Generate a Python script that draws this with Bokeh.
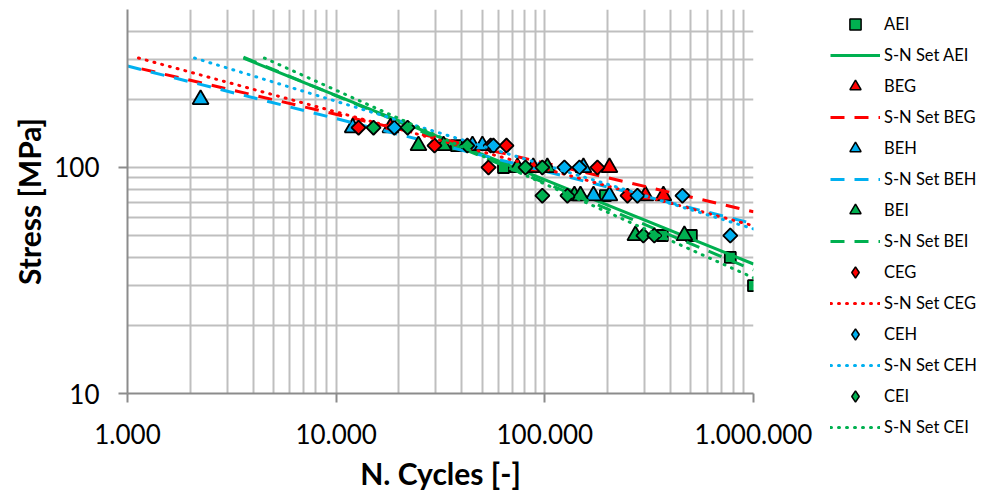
import numpy as np
from bokeh.plotting import figure
from bokeh.layouts import row
from bokeh.models import Legend, LegendItem, FixedTicker, Range1d
from bokeh.embed import file_html
from bokeh.resources import INLINE

# ---------------- data ----------------
AEI_N = [37700, 63400, 195100, 365600, 503600, 774000, 1000000]
AEI_S = [125, 100, 75, 50, 50, 40, 30]
BEG_N = [18200, 88000, 204000, 303600, 370000]
BEG_S = [150, 100, 100, 75, 75]
BEH_N = [2240, 12000, 45000, 50200, 153100, 171100, 204000]
BEH_S = [200, 150, 125, 125, 100, 75, 75]
BEI_N = [24800, 32700, 73900, 102800, 138600, 148200, 271600, 466300]
BEI_S = [125, 125, 100, 100, 75, 75, 50, 50]
CEG_N = [12800, 29600, 53700, 55000, 65500, 178700, 249000]
CEG_S = [150, 125, 100, 125, 125, 100, 75]
CEH_N = [19000, 56700, 124100, 146500, 277800, 456500, 774000]
CEH_S = [150, 125, 100, 100, 75, 75, 50]
CEI_N = [15100, 22000, 42500, 80800, 97300, 97300, 128300, 296600, 334800]
CEI_S = [150, 150, 125, 100, 100, 75, 75, 50, 50]

# S-N fitted lines (end points)
SN_AEI_N = [3594, 1000000]
SN_AEI_S = [305, 37.4]
SN_BEG_N = [1167, 1000000]
SN_BEG_S = [273, 63.7]
SN_BEH_N = [1000, 1000000]
SN_BEH_S = [281, 56.4]
SN_BEI_N = [3594, 1000000]
SN_BEI_S = [308, 35.2]
SN_CEG_N = [1129, 1000000]
SN_CEG_S = [305, 55.2]
SN_CEH_N = [2096, 1000000]
SN_CEH_S = [305, 53.5]
SN_CEI_N = [4529, 1000000]
SN_CEI_S = [305, 32.5]

x_ticks = [1000, 10000, 100000, 1000000]
x_tick_labels = ["1.000", "10.000", "100.000", "1.000.000"]
y_ticks = [10, 100]
y_tick_labels = ["10", "100"]

GREEN = "#00B050"
RED = "#FF0000"
BLUE = "#00B0F0"
FONT = "Lato"
DOT = "1 7"
DASH = "14 10"

H = 494
W1 = 816          # chart part
W2 = 989 - W1     # legend part

p = figure(width=W1, height=H, x_axis_type="log", y_axis_type="log",
           x_range=Range1d(1000, 1000000), y_range=Range1d(10, 500),
           output_backend="svg", toolbar_location=None,
           min_border_left=127, min_border_right=W1 - 753,
           min_border_top=9, min_border_bottom=H - 393)
p.outline_line_color = None
p.background_fill_color = "white"

mant = [2, 3, 4, 5, 6, 7, 8, 9]
p.xaxis.ticker = FixedTicker(ticks=x_ticks,
                             minor_ticks=[m * t for t in x_ticks[:-1] for m in mant])
p.yaxis.ticker = FixedTicker(ticks=y_ticks,
                             minor_ticks=[m * t for t in y_ticks for m in mant if m * t <= 500])
p.xaxis.major_label_overrides = {float(t): l for t, l in zip(x_ticks, x_tick_labels)}
p.yaxis.major_label_overrides = {float(t): l for t, l in zip(y_ticks, y_tick_labels)}

for ax in (p.xaxis, p.yaxis):
    ax.axis_line_color = "#8C8C8C"
    ax.axis_line_width = 2
    ax.major_tick_line_color = "#8C8C8C"
    ax.major_tick_line_width = 2
    ax.major_tick_out = 9
    ax.major_tick_in = 0
    ax.minor_tick_line_color = None
    ax.major_label_text_font = FONT
    ax.major_label_text_font_size = "26px"
    ax.major_label_text_color = "black"
    ax.axis_label_text_font = FONT
    ax.axis_label_text_font_size = "30px"
    ax.axis_label_text_font_style = "bold"
    ax.axis_label_text_color = "black"

p.xaxis.axis_label = "N. Cycles [-]"
p.yaxis.axis_label = "Stress [MPa]"
p.xaxis.major_label_standoff = 21
p.yaxis.major_label_standoff = 19
p.xaxis.axis_label_standoff = 8
p.yaxis.axis_label_standoff = 4

for g in (p.xgrid, p.ygrid):
    g.grid_line_color = "#BFBFBF"
    g.grid_line_width = 2
    g.minor_grid_line_color = "#BFBFBF"
    g.minor_grid_line_width = 2

ang = np.pi / 4

# legend panel: a separate, axis-less figure to the right of the chart.
# Its ranges (0..1) keep the series' own points out of view; only the legend shows.
q = figure(width=W2, height=H, x_range=Range1d(0, 1), y_range=Range1d(0, 1),
           output_backend="svg", toolbar_location=None,
           x_axis_location=None, y_axis_location=None,
           min_border_left=0, min_border_right=0, min_border_top=0, min_border_bottom=0)
q.outline_line_color = None
q.grid.visible = False
q.background_fill_color = "white"

aligned = True
if "frame_align" in q.properties():
    q.frame_align = False
    p.frame_align = False
    aligned = False

series = [
    ("AEI", AEI_N, AEI_S, "square", "square", GREEN, 11, 0.0, SN_AEI_N, SN_AEI_S, "solid"),
    ("BEG", BEG_N, BEG_S, "triangle", "triangle", RED, 16, 0.0, SN_BEG_N, SN_BEG_S, DASH),
    ("BEH", BEH_N, BEH_S, "triangle", "triangle", BLUE, 16, 0.0, SN_BEH_N, SN_BEH_S, DASH),
    ("BEI", BEI_N, BEI_S, "triangle", "triangle", GREEN, 16, 0.0, SN_BEI_N, SN_BEI_S, DASH),
    ("CEG", CEG_N, CEG_S, "square", "diamond", RED, 10, ang, SN_CEG_N, SN_CEG_S, DOT),
    ("CEH", CEH_N, CEH_S, "square", "diamond", BLUE, 10, ang, SN_CEH_N, SN_CEH_S, DOT),
    ("CEI", CEI_N, CEI_S, "square", "diamond", GREEN, 10, ang, SN_CEI_N, SN_CEI_S, DOT),
]

items = []
for name, N, S, mk, lmk, col, sz, a, LN, LS, dash in series:
    cap = "round" if dash == DOT else "butt"
    p.scatter(N, S, marker=mk, size=sz, angle=a,
              fill_color=col, line_color="black", line_width=1.8)
    p.line(LN, LS, line_color=col, line_width=3, line_dash=dash, line_cap=cap)
    rm = q.scatter(N, S, marker=lmk, size=sz, fill_color=col,
                   line_color="black", line_width=1.5)
    rl = q.line(LN, LS, line_color=col, line_width=3, line_dash=dash, line_cap=cap)
    items.append(LegendItem(label=name, renderers=[rm]))
    items.append(LegendItem(label="S-N Set " + name, renderers=[rl]))

n_items = len(items)
GH, SP = 28, 3
leg_h = n_items * GH + (n_items - 1) * SP
top_y = 10.2                             # top of the legend from the page top
frame_bottom = 393 if aligned else H
vy = int(round(frame_bottom - top_y - leg_h))

legend = Legend(items=items, location=(14, vy), orientation="vertical",
                glyph_width=50, glyph_height=GH, spacing=SP, padding=0, margin=0,
                label_standoff=4, label_text_font=FONT, label_text_font_size="16.5px",
                label_text_color="black", border_line_color=None,
                background_fill_alpha=0.0, inactive_fill_alpha=0.0)
q.add_layout(legend, "center")

layout = row(p, q, spacing=0)
open("out.html", "w").write(file_html(layout, INLINE))
